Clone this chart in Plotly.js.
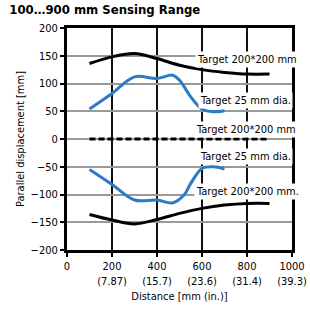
<!DOCTYPE html>
<html><head><meta charset="utf-8">
<script src="https://cdn.plot.ly/plotly-3.0.1.min.js"></script>
<style>html,body{margin:0;padding:0;background:#fff}#chart{width:310px;height:309px}
#chart text{font-stretch:condensed !important;}</style>
</head><body><div id="chart"></div>
<script>
const FONT = "DejaVu Sans Condensed, DejaVu Sans, sans-serif";

const blackX = [100, 200, 300, 400, 500, 600, 700, 800, 900];
const blackTopY = [136, 148, 154, 145, 133, 125, 120, 117, 117];
const blackBotY = [-136, -146, -153, -145, -134, -125, -119, -116, -116];

const blueX = [100, 200, 300, 400, 470, 500, 550, 600, 650, 700];
const blueTopY = [54, 82, 112, 109, 115, 106, 76, 54, 49, 51];
const blueBotX = [100, 200, 300, 400, 470, 520, 550, 600, 650, 700];
const blueBotY = [-55, -82, -110, -110, -115, -101, -80, -53, -50, -54];

const zeroX = [100, 900];
const zeroY = [0, 0];

const xTickVals = [0, 200, 400, 600, 800, 1000];
const xTickText = ["0", "200<br>(7.87)", "400<br>(15.7)", "600<br>(23.6)", "800<br>(31.4)", "1000<br>(39.3)"];
const yTickVals = [-200, -150, -100, -50, 0, 50, 100, 150, 200];

const labelText = ["Target 200*200 mm", "Target 25 mm dia.", "Target 200*200 mm", "Target 25 mm dia.", "Target 200*200 mm."];
const labelX = [802, 793, 795, 793, 800];
const labelY = [143, 70, 17, -32, -95];

const BLUE = "#2b7bc6";
const traces = [
  {x: blackX, y: blackTopY, mode: "lines", line: {color: "#000", width: 3, shape: "spline"}},
  {x: blueX, y: blueTopY, mode: "lines", line: {color: BLUE, width: 3, shape: "spline"}},
  {x: zeroX, y: zeroY, mode: "lines", line: {color: "#000", width: 3, dash: "6px,3px"}},
  {x: blueBotX, y: blueBotY, mode: "lines", line: {color: BLUE, width: 3, shape: "spline"}},
  {x: blackX, y: blackBotY, mode: "lines", line: {color: "#000", width: 3, shape: "spline"}}
];

const annotations = labelText.map((t, i) => ({
  x: labelX[i], y: labelY[i], xref: "x", yref: "y", text: t, showarrow: false,
  bgcolor: "#fff", borderpad: 1, font: {family: FONT, size: 11, color: "#000"}
}));

const layout = {
  width: 310, height: 309,
  margin: {l: 67, r: 18, t: 28, b: 59},
  paper_bgcolor: "#fff", plot_bgcolor: "#fff",
  showlegend: false,
  font: {family: FONT, size: 11, color: "#000"},
  title: {text: "<b>100…900 mm Sensing Range</b>", x: 0.03, xanchor: "left", y: 0.985, yanchor: "top",
          font: {family: FONT, size: 13, color: "#000"}},
  xaxis: {
    range: [0, 1000], tickvals: xTickVals, ticktext: xTickText,
    tickfont: {family: FONT, size: 11, color: "#000"},
    showgrid: true, gridcolor: "#111111", gridwidth: 2,
    showline: true, linecolor: "#000", linewidth: 3, mirror: true,
    ticks: "outside", ticklen: 4, tickwidth: 2, tickcolor: "#000",
    zeroline: false, fixedrange: true,
    title: {text: "Distance [mm (in.)]", standoff: 6, font: {family: FONT, size: 11, color: "#000"}}
  },
  yaxis: {
    range: [-200, 200], tickvals: yTickVals,
    tickfont: {family: FONT, size: 11, color: "#000"},
    showgrid: true, gridcolor: "#999", gridwidth: 2,
    showline: true, linecolor: "#000", linewidth: 3, mirror: true,
    ticks: "outside", ticklen: 4, tickwidth: 2, tickcolor: "#000",
    zeroline: false, fixedrange: true,
    title: {text: "Parallel displacement [mm]", standoff: 4, font: {family: FONT, size: 11, color: "#000"}}
  },
  annotations: annotations
};

Plotly.newPlot("chart", traces, layout, {displayModeBar: false, staticPlot: true});
</script>
</body></html>
